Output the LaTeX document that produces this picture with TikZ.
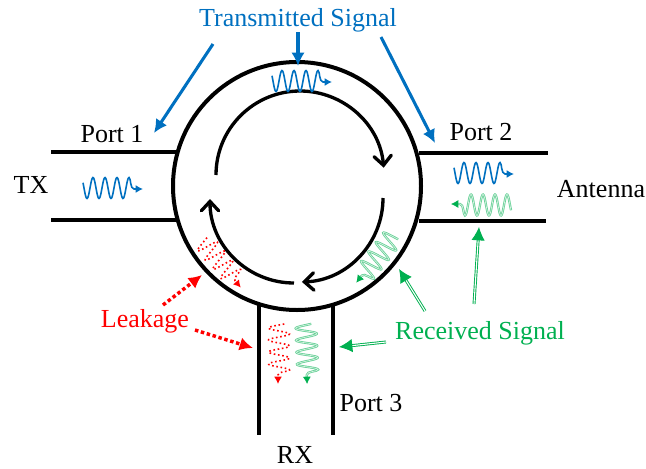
\documentclass[tikz,border=0pt]{standalone}
\usepackage{fontspec}
\setmainfont{Liberation Serif}
\usetikzlibrary{arrows.meta}
\definecolor{txblue}{HTML}{0070C0}
\definecolor{rxgreen}{HTML}{00B050}
\tikzset{
  pics/sigwave/.style={code={
    \draw[#1] plot[domain=0:46,samples=90,smooth] (\x,{-10.5*sin((\x-1)*30)})
      .. controls (48,10) and (47,-1) .. (51,-1) -- (60,-1);
  }},
  bluewave/.style={draw=txblue,line width=1.2pt,-{Latex[length=5.5pt,width=6pt]}},
  greenwave/.style={draw=rxgreen!60,double=rxgreen!15,double distance=.5pt,line width=.6pt,-{Latex[length=5.5pt,width=6pt,fill=rxgreen,color=rxgreen]}},
  redwave/.style={draw=red,line width=1.2pt,dotted,-{Latex[length=5.5pt,width=6pt,fill=red,color=red,sep=0pt]}},
  portline/.style={line width=3.3pt},
}
\begin{document}
\begin{tikzpicture}[x=0.75pt,y=0.75pt,yscale=-1]
  \useasboundingbox (0,0) rectangle (646,468);
  \begin{scope}[every node/.style={font=\fontsize{19.5}{22}\selectfont,inner sep=0pt,anchor=base}]
    \node (port1) at (112,142) {Port 1};
    \node (port2) at (481,140) {Port 2};
    \node (port3) at (371,411) {Port 3};
    \node (tx) at (31,193) {TX};
    \node (rx) at (295,463) {RX};
    \node (antenna) at (601,197) {Antenna};
    \node[text=txblue] (transmitted) at (298,26) {Transmitted Signal};
    \node[text=red] (leakage) at (145,327) {Leakage};
    \node[text=rxgreen] (received) at (480,339) {Received Signal};
  \end{scope}
  \node[circle,draw,line width=3pt,minimum size=186pt,inner sep=0pt,outer sep=0pt] (ring) at (297,186) {};
  \coordinate (a1) at (51,152);
  \coordinate (a2) at (178,152);
  \coordinate (b1) at (51,220);
  \coordinate (b2) at (178,220);
  \coordinate (c1) at (419,153);
  \coordinate (c2) at (548,153);
  \coordinate (d1) at (419,221);
  \coordinate (d2) at (546,221);
  \coordinate (e1) at (259,304);
  \coordinate (e2) at (259,435);
  \coordinate (f1) at (333,304);
  \coordinate (f2) at (333,435);
  \begin{scope}[every edge/.style={draw=black,portline}]
    \path (a1) edge (a2);
    \path (b1) edge (b2);
    \path (c1) edge (c2);
    \path (d1) edge (d2);
    \path (e1) edge (e2);
    \path (f1) edge (f2);
  \end{scope}
  \begin{scope}[line width=2.5pt,-{Straight Barb[length=7pt,width=13pt,line cap=round]}]
    \draw (216,175) arc[start angle=180,end angle=355,radius=84];
    \draw (383,198) arc[start angle=0,end angle=88,radius=84];
    \draw (294,283) arc[start angle=90,end angle=180,radius=84];
  \end{scope}
  \pic at (83,188) {sigwave=bluewave};
  \pic at (272,81) {sigwave=bluewave};
  \pic at (454,173) {sigwave=bluewave};
  \pic[rotate=180] at (511,205) {sigwave=greenwave};
  \pic[rotate=-128] at (394,236) {sigwave=greenwave};
  \pic[rotate=-88] at (306,324) {sigwave=greenwave};
  \pic[rotate=-50] at (203,241) {sigwave=redwave};
  \pic[rotate=-90] at (279,324) {sigwave=redwave};
  \coordinate (t1) at (213,44);
  \coordinate (t2) at (154,133);
  \coordinate (t3) at (298,32);
  \coordinate (t4) at (298,66);
  \coordinate (t5) at (381,37);
  \coordinate (t6) at (435,143);
  \begin{scope}[every edge/.style={draw=txblue,line width=2.3pt,-{Latex[length=10pt,width=10pt]}}]
    \path (t1) edge (t2);
    \path (t3) edge (t4);
    \path (t5) edge (t6);
  \end{scope}
  \coordinate (l1) at (163,305);
  \coordinate (l2) at (202,275);
  \coordinate (l3) at (195,330);
  \coordinate (l4) at (253,348);
  \begin{scope}[every edge/.style={draw=red,line width=2.6pt,dotted,-{Latex[length=10pt,width=10pt]}}]
    \path (l1) edge (l2);
    \path (l3) edge (l4);
  \end{scope}
  \coordinate (r1) at (425,311);
  \coordinate (r2) at (399,269);
  \coordinate (r3) at (474,304);
  \coordinate (r4) at (479,227);
  \coordinate (r5) at (386,342);
  \coordinate (r6) at (339,347);
  \begin{scope}[every edge/.style={draw=rxgreen,double=white,double distance=.8pt,line width=.7pt,-{Latex[length=10pt,width=10pt]}}]
    \path (r1) edge (r2);
    \path (r3) edge (r4);
    \path (r5) edge (r6);
  \end{scope}
\end{tikzpicture}
\end{document}
